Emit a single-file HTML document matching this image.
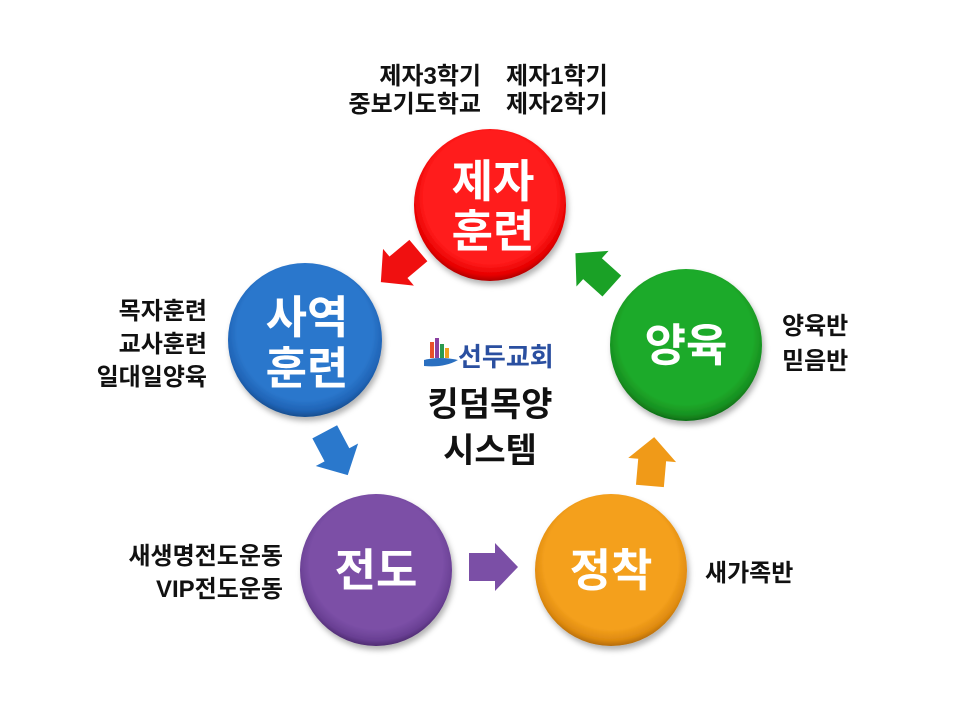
<!DOCTYPE html>
<html><head><meta charset="utf-8"><style>
body{margin:0;background:#fff;}
svg text{font-family:"Liberation Sans","Noto Sans CJK KR",sans-serif;}
</style></head><body>
<svg width="960" height="720" viewBox="0 0 960 720" xmlns="http://www.w3.org/2000/svg">
<defs>
<radialGradient id="gr" cx="50%" cy="45%" r="55%"><stop offset="0.8" stop-color="#ff1a1a"/><stop offset="0.93" stop-color="#e60000"/><stop offset="1" stop-color="#b00000"/></radialGradient>
<radialGradient id="gb" cx="50%" cy="45%" r="55%"><stop offset="0.8" stop-color="#2b77cc"/><stop offset="0.93" stop-color="#1f63b5"/><stop offset="1" stop-color="#174d8e"/></radialGradient>
<radialGradient id="gg" cx="50%" cy="45%" r="55%"><stop offset="0.8" stop-color="#1faa2a"/><stop offset="0.93" stop-color="#168f20"/><stop offset="1" stop-color="#0f6d16"/></radialGradient>
<radialGradient id="gp" cx="50%" cy="45%" r="55%"><stop offset="0.8" stop-color="#7b4fa6"/><stop offset="0.93" stop-color="#693f93"/><stop offset="1" stop-color="#4f2c72"/></radialGradient>
<radialGradient id="go" cx="50%" cy="45%" r="55%"><stop offset="0.8" stop-color="#f4a01c"/><stop offset="0.93" stop-color="#de8a10"/><stop offset="1" stop-color="#b56c08"/></radialGradient>
<filter id="sh" x="-20%" y="-20%" width="140%" height="140%"><feDropShadow dx="2" dy="4" stdDeviation="3" flood-color="#000" flood-opacity="0.3"/></filter>
<polygon id="arr" points="-24,-14 2,-14 2,-24 25,0 2,24 2,14 -24,14"/>
</defs>

<circle cx="490" cy="205" r="76" fill="url(#gr)" filter="url(#sh)"/>
<circle cx="305" cy="340" r="77" fill="url(#gb)" filter="url(#sh)"/>
<circle cx="686" cy="345" r="76" fill="url(#gg)" filter="url(#sh)"/>
<circle cx="376" cy="570" r="76" fill="url(#gp)" filter="url(#sh)"/>
<circle cx="611" cy="570" r="76" fill="url(#go)" filter="url(#sh)"/>

<g fill="#fff" font-weight="bold" font-size="45" text-anchor="middle">
<text x="493" y="197">제자</text><text x="493" y="247">훈련</text>
<text x="307" y="333">사역</text><text x="307" y="384">훈련</text>
<text x="686" y="361">양육</text>
<text x="376" y="586">전도</text>
<text x="611" y="586">정착</text>
</g>

<use href="#arr" fill="#f01010" transform="translate(400,266) rotate(140)"/>
<use href="#arr" fill="#1aa126" transform="translate(594,270) rotate(-138)"/>
<use href="#arr" fill="#2a78cc" transform="translate(336,453) rotate(62)"/>
<use href="#arr" fill="#7b4fa6" transform="translate(493,567)"/>
<use href="#arr" fill="#f09a18" transform="translate(652,462) rotate(-85)"/>

<g fill="#111" font-size="24" font-weight="bold">
<text x="481" y="84" text-anchor="end">제자3학기</text>
<text x="481" y="112" text-anchor="end">중보기도학교</text>
<text x="506" y="84">제자1학기</text>
<text x="506" y="112">제자2학기</text>
<text x="207" y="319" text-anchor="end">목자훈련</text>
<text x="207" y="352" text-anchor="end">교사훈련</text>
<text x="207" y="385" text-anchor="end">일대일양육</text>
<text x="782" y="334">양육반</text>
<text x="782" y="369">믿음반</text>
<text x="283" y="564" text-anchor="end">새생명전도운동</text>
<text x="283" y="597" text-anchor="end">VIP전도운동</text>
<text x="705" y="581">새가족반</text>
</g>

<g>
<rect x="430" y="342" width="4" height="16" fill="#e8502a"/>
<rect x="435" y="338" width="4" height="20" fill="#8a3fa0"/>
<rect x="440" y="344" width="4" height="14" fill="#2a9a50"/>
<rect x="445" y="348" width="4" height="10" fill="#f0a020"/>
<path d="M424 360 Q440 356 458 360 Q444 368 424 366 Z" fill="#2a6fc0"/>
<text x="458" y="366" font-size="26" font-weight="bold" fill="#2a4fa0">선두교회</text>
</g>
<g fill="#111" font-size="34" font-weight="bold" text-anchor="middle">
<text x="490" y="416">킹덤목양</text>
<text x="490" y="462">시스템</text>
</g>
</svg>
</body></html>
